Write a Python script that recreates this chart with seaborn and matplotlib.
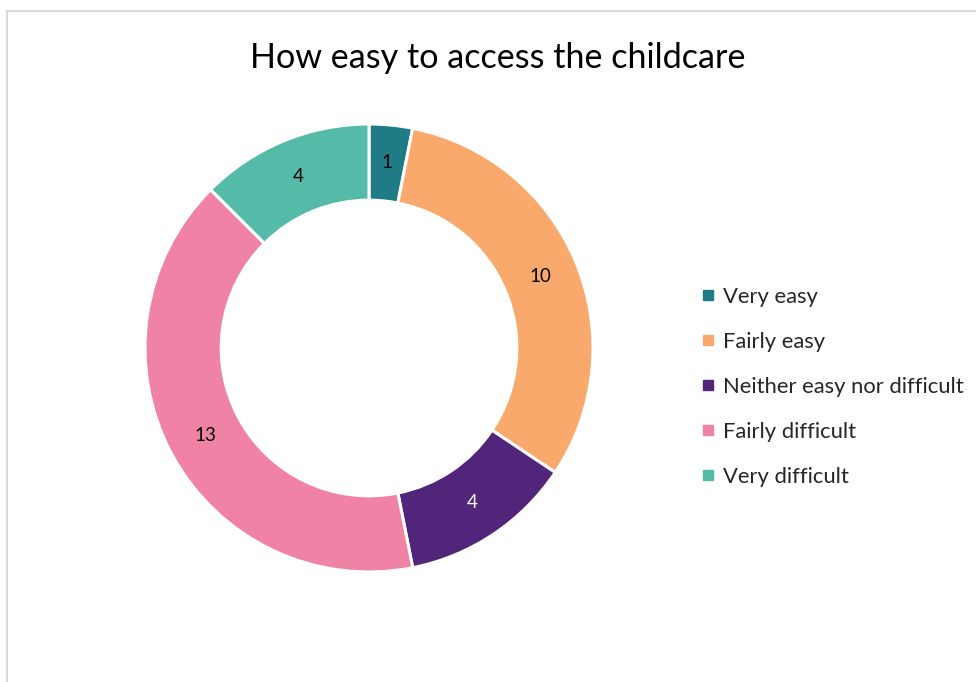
import matplotlib
matplotlib.use("Agg")
import matplotlib.pyplot as plt
from matplotlib.lines import Line2D
from matplotlib.patches import Rectangle
import numpy as np
import seaborn as sns

categories = ["Very easy", "Fairly easy", "Neither easy nor difficult",
              "Fairly difficult", "Very difficult"]
counts = [1, 10, 4, 13, 4]
colors = ["#1F7B86", "#F9A96B", "#51257A", "#F083A5", "#55BBA8"]
label_colors = ["#000000", "#000000", "#FFFFFF", "#000000", "#000000"]
title = "How easy to access the childcare"

sns.set_theme(style="white")
plt.rcParams["font.family"] = ["Lato", "DejaVu Sans"]

W, H = 976, 682
fig = plt.figure(figsize=(W / 100, H / 100), dpi=100)
fig.patch.set_facecolor("white")

# chart frame
fig.add_artist(Rectangle((7 / W, -0.05), 1.2, 1 - 11 / H + 0.05,
                         transform=fig.transFigure, fill=False,
                         edgecolor="#D9D9D9", linewidth=1.5))

cx, cy, r = 369, 348, 224
ax = fig.add_axes([(cx - r) / W, (H - cy - r) / H, 2 * r / W, 2 * r / H])
wedges, _ = ax.pie(counts, colors=colors, startangle=90, counterclock=False,
                   radius=1.0,
                   wedgeprops=dict(width=0.34, edgecolor="white", linewidth=2.2))
ax.set_xlim(-1, 1)
ax.set_ylim(-1, 1)
ax.axis("off")

total = sum(counts)
start = 90.0
lr = 1.0 - 0.34 / 2
for val, tc in zip(counts, label_colors):
    mid = start - val / total * 360 / 2
    ang = np.deg2rad(mid)
    ax.text(lr * np.cos(ang), lr * np.sin(ang), str(val), ha="center",
            va="center", fontsize=13.5, color=tc)
    start -= val / total * 360

fig.text(498 / W, 1 - 58 / H, title, ha="center", va="center",
         fontsize=24.6, color="#000000")

handles = [Line2D([0], [0], marker="s", linestyle="none", markersize=7.5,
                  markerfacecolor=c, markeredgecolor=c) for c in colors]
fig.legend(handles, categories, loc="upper left",
           bbox_to_anchor=(699 / W, 1 - 287 / H), frameon=False,
           fontsize=15.8, handletextpad=0.3, labelspacing=1.14,
           handlelength=0.8, borderpad=0, borderaxespad=0)

fig.savefig("out.png", dpi=100, facecolor="white")
